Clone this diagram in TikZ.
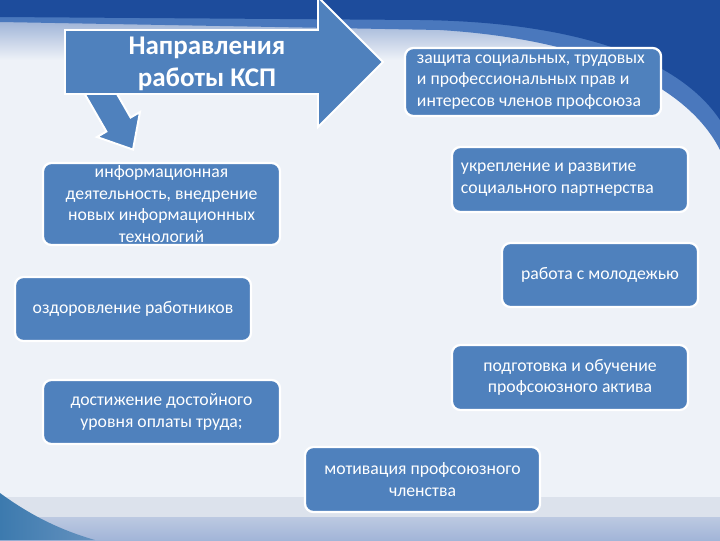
\documentclass[tikz,border=0pt]{standalone}
\usepackage{fontspec}
\setmainfont{Carlito}
\usetikzlibrary{calc}
\definecolor{boxblue}{HTML}{4F81BD}
\definecolor{darkbg}{HTML}{1D4C9C}
\definecolor{midbg}{HTML}{4A78BD}
\definecolor{paper}{HTML}{EEF2F8}
\definecolor{bandtop}{HTML}{93AAD2}
\definecolor{footlight}{HTML}{DCE2EC}
\definecolor{foottop}{HTML}{BCC9E1}
\definecolor{footbot}{HTML}{A2B5D8}
\definecolor{swoosh}{HTML}{3C7AAE}
\tikzset{box/.style={draw=white,line width=1.6pt,fill=boxblue,rounded corners=6pt,text=white,
  font=\fontsize{12.6}{15.4}\selectfont,inner ysep=0pt,align=center}}
\tikzset{t/.style={font=\fontsize{19.2}{22.7}\selectfont\bfseries,text=white,align=center}}
\tikzset{blk/.style={fill=boxblue,draw=white,line width=1.4pt,line join=miter}}

\begin{document}
\begin{tikzpicture}[x=0.025cm,y=-0.025cm]
  \useasboundingbox (0,0) rectangle (720,540);
  % background
  \fill[paper] (0,0) rectangle (720,540);
  \shade[top color=bandtop,bottom color=paper] (0,15) rectangle (720,60);
  \fill[midbg] (0,0) -- (720,0) -- (720,150) .. controls (690,90) and (600,40) .. (440,30) -- (0,22) -- cycle;
  \fill[darkbg] (0,0) -- (720,0) -- (720,120) .. controls (680,60) and (580,22) .. (420,20) -- (0,17) -- cycle;
  \fill[footlight] (0,497) rectangle (720,540);
  \shade[top color=foottop,bottom color=footbot] (0,517) rectangle (720,540);
  \shade[left color=swoosh,right color=swoosh!60!footbot] (0,493) .. controls (30,515) and (60,530) .. (95,540) -- (0,540) -- cycle;

  % arrows
  \filldraw[blk] (100.6,65.5) -- (130.6,117.5) -- (140,112) -- (133,149.6) -- (97,137) -- (106.4,131.5) -- (76.4,79.5) -- cycle;
  \filldraw[blk] (65,30) -- (318,30) -- (318,-3) -- (383,62) -- (318,127) -- (318,94) -- (65,94) -- cycle;
  \node[t] (title) at (207,64) {Направления\\работы КСП};

  % boxes
  \node[box,minimum width=6.4cm,minimum height=1.7cm,text width=5.8cm,inner xsep=0.3cm,align=flush left] (prot) at (533,82)
    {защита социальных, трудовых\\и профессиональных прав и\\интересов членов профсоюза};
  \node[box,minimum width=5.925cm,minimum height=2.05cm] (info) at (161.5,204)
    {информационная\\деятельность, внедрение\\новых информационных\\технологий};
  \node[box,minimum width=5.9cm,minimum height=1.625cm,text width=5.45cm,inner xsep=0.225cm,align=flush left] (partn) at (570,179.5)
    {укрепление и развитие\\социального партнерства};
  \node[box,minimum width=4.9cm,minimum height=1.6cm] (youth) at (600,275) {работа с молодежью};
  \node[box,minimum width=5.9cm,minimum height=1.6cm] (health) at (133,309) {оздоровление работников};
  \node[box,minimum width=5.9cm,minimum height=1.625cm] (train) at (570,377.5)
    {подготовка и обучение\\профсоюзного актива};
  \node[box,minimum width=5.925cm,minimum height=1.6cm] (wage) at (161.5,412)
    {достижение достойного\\уровня оплаты труда;};
  \node[box,minimum width=5.875cm,minimum height=1.625cm] (motiv) at (422.5,479.5)
    {мотивация профсоюзного\\членства};
\end{tikzpicture}
\end{document}
